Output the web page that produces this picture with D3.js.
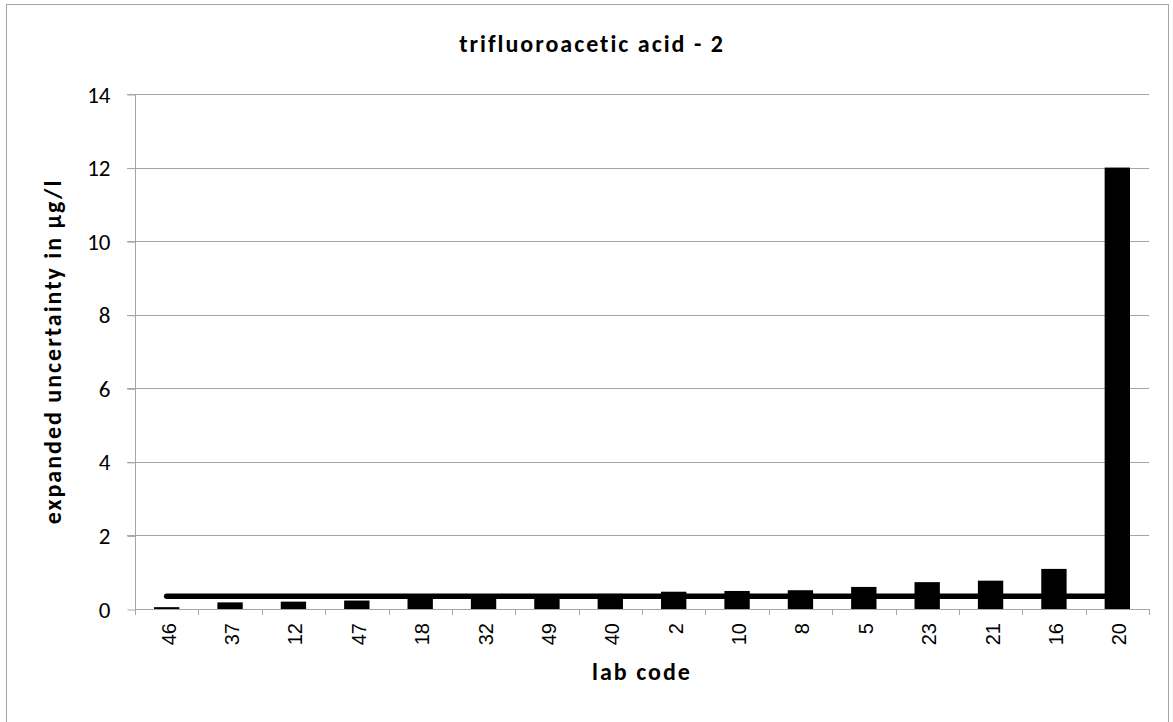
<!DOCTYPE html>
<html>
<head>
<meta charset="utf-8">
<script src="https://cdn.jsdelivr.net/npm/d3@7"></script>
<style>
  body { margin: 0; background: #fff; }
  svg { display: block; }
  .ylab text { font-family: Calibri, Carlito, Lato, sans-serif; font-size: 23px; fill: #000; }
  .xlab text { font-family: Arial, "Liberation Sans", sans-serif; font-size: 20px; fill: #000; }
  .title { font-family: Calibri, Carlito, Lato, sans-serif; font-weight: bold; font-size: 24px; letter-spacing: 2px; fill: #000; }
</style>
</head>
<body>
<svg width="1173" height="722"></svg>
<script>
// Data
var labCodes = ["46", "37", "12", "47", "18", "32", "49", "40", "2", "10", "8", "5", "23", "21", "16", "20"];
var uncertainty = [0.05, 0.18, 0.2, 0.23, 0.3, 0.38, 0.4, 0.41, 0.47, 0.49, 0.51, 0.6, 0.73, 0.77, 1.09, 12];
var targetLine = [0.35, 0.35, 0.35, 0.35, 0.35, 0.35, 0.35, 0.35, 0.35, 0.35, 0.35, 0.35, 0.35, 0.35, 0.35, 0.35];
var yTicks = [0, 2, 4, 6, 8, 10, 12, 14];

var svg = d3.select("svg"),
    width = +svg.attr("width"),
    height = +svg.attr("height");

var plotLeft = 135, plotRight = 1149, plotTop = 94, plotBottom = 609;
var gridColor = "#a6a6a6";

// chart border
svg.append("rect")
  .attr("x", 6.5).attr("y", 4.5)
  .attr("width", 1162).attr("height", 740)
  .attr("fill", "none")
  .attr("stroke", gridColor);

// scales
var x = d3.scaleBand()
  .domain(labCodes)
  .range([plotLeft, plotRight])
  .paddingInner(0.6)
  .paddingOuter(0.3);

var slots = d3.scaleLinear().domain([0, labCodes.length]).range([plotLeft, plotRight]);

var y = d3.scaleLinear()
  .domain([0, 14])
  .range([plotBottom, plotTop]);

// gridlines
svg.append("g")
  .selectAll("line")
  .data(yTicks.filter(function (d) { return d > 0; }))
  .enter().append("line")
  .attr("x1", plotLeft - 8).attr("x2", plotRight)
  .attr("y1", function (d) { return Math.round(y(d)) + 0.5; })
  .attr("y2", function (d) { return Math.round(y(d)) + 0.5; })
  .attr("stroke", gridColor);

// y axis
var yAxis = svg.append("g")
  .attr("class", "ylab")
  .attr("transform", "translate(" + (plotLeft + 0.5) + ",0)")
  .call(d3.axisLeft(y).tickValues(yTicks).tickSize(8));
yAxis.selectAll("line").attr("stroke", gridColor).attr("transform", "translate(0,0.5)");
yAxis.select(".domain").attr("stroke", gridColor).attr("d", "M0," + plotTop + "V" + plotBottom);
yAxis.selectAll("text").attr("dy", "0.35em").attr("x", -25);

// bars
svg.append("g")
  .selectAll("rect")
  .data(labCodes)
  .enter().append("rect")
  .attr("x", function (d) { return x(d); })
  .attr("width", x.bandwidth())
  .attr("y", function (d, i) { return y(uncertainty[i]); })
  .attr("height", function (d, i) { return y(0) - y(uncertainty[i]); })
  .attr("fill", "#000");

// x axis line and slot ticks
svg.append("line")
  .attr("x1", plotLeft).attr("x2", plotRight + 1)
  .attr("y1", plotBottom + 0.5).attr("y2", plotBottom + 0.5)
  .attr("stroke", gridColor);
svg.append("g")
  .selectAll("line")
  .data(d3.range(labCodes.length + 1))
  .enter().append("line")
  .attr("x1", function (d) { return Math.round(slots(d)) + 0.5; })
  .attr("x2", function (d) { return Math.round(slots(d)) + 0.5; })
  .attr("y1", plotBottom).attr("y2", plotBottom + 6)
  .attr("stroke", gridColor);

// x labels
var xAxis = svg.append("g")
  .attr("class", "xlab")
  .attr("transform", "translate(0," + plotBottom + ")")
  .call(d3.axisBottom(x).tickSize(0));
xAxis.select(".domain").remove();
xAxis.selectAll("text")
  .attr("transform", "rotate(-90)")
  .attr("text-anchor", "end")
  .attr("x", -14)
  .attr("y", 2)
  .attr("dy", "0.35em");

// reference line
var line = d3.line()
  .x(function (d, i) { return x(labCodes[i]) + x.bandwidth() / 2; })
  .y(function (d) { return y(d); });
svg.append("path")
  .datum(targetLine)
  .attr("d", line)
  .attr("fill", "none")
  .attr("stroke", "#000")
  .attr("stroke-width", 5.5)
  .attr("stroke-linecap", "round");

// titles
svg.append("text")
  .attr("class", "title")
  .attr("x", 592).attr("y", 52)
  .attr("text-anchor", "middle")
  .text("trifluoroacetic acid - 2");

svg.append("text")
  .attr("class", "title")
  .attr("transform", "translate(61," + ((plotTop + plotBottom) / 2) + ") rotate(-90)")
  .attr("text-anchor", "middle")
  .text("expanded uncertainty in µg/l");

svg.append("text")
  .attr("class", "title")
  .attr("x", 642).attr("y", 680)
  .attr("text-anchor", "middle")
  .text("lab code");
</script>
</body>
</html>
